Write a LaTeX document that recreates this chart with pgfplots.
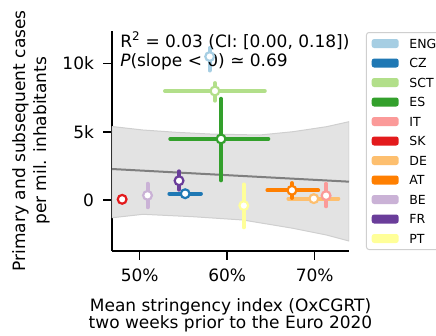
\documentclass[border=0pt]{standalone}
\usepackage{fontspec}
\setmainfont{DejaVu Sans}
\usepackage{pgfplots}
\pgfplotsset{compat=1.18}
\definecolor{cENG}{HTML}{A6CEE3}
\definecolor{cCZ}{HTML}{1F78B4}
\definecolor{cSCT}{HTML}{B2DF8A}
\definecolor{cES}{HTML}{33A02C}
\definecolor{cIT}{HTML}{FB9A99}
\definecolor{cSK}{HTML}{E31A1C}
\definecolor{cDE}{HTML}{FDBF6F}
\definecolor{cAT}{HTML}{FF7F00}
\definecolor{cBE}{HTML}{CAB2D6}
\definecolor{cFR}{HTML}{6A3D9A}
\definecolor{cPT}{HTML}{FFFF99}
\definecolor{bandfill}{HTML}{E3E3E3}
\definecolor{bandedge}{HTML}{CFCFCF}
\definecolor{regline}{HTML}{7F7F7F}
\pgfplotsset{
  ebar/.style={only marks, mark=none, forget plot,
    error bars/.cd, x dir=both, x explicit, y dir=both, y explicit,
    error mark=none,
    error bar style={line width=4pt, line cap=round, color=#1}},
  pmark/.style={only marks, forget plot, mark=*, mark size=4.4pt,
    mark options={fill=white, draw=#1, line width=2.2pt}},
}
\begin{document}
\begin{tikzpicture}
\begin{axis}[name=ax, scale only axis, width=237pt, height=220.5pt,
  xmin=46.84, xmax=73.92, ymin=-3733, ymax=12408,
  axis lines*=left, tick pos=left, tick align=outside,
  major tick length=8.5pt,
  axis line style={line width=1.6pt, black},
  tick style={line width=1.6pt, black},
  xtick={50,60,70}, xticklabels={50\%,60\%,70\%},
  ytick={0,5000,10000}, yticklabels={0,5k,10k},
  scaled y ticks=false,
  ticklabel style={font=\fontsize{17}{20}\selectfont},
  yticklabel style={xshift=-6pt},
  xticklabel style={yshift=-6pt},
  /pgf/number format/assume math mode=true,
  xlabel={Mean stringency index (OxCGRT)\\two weeks prior to the Euro 2020},
  xlabel style={align=center, font=\fontsize{17}{17.3}\selectfont,
    at={(axis description cs:0.5,0)}, anchor=north, yshift=-43.7pt},
  ylabel={Primary and subsequent cases\\per mil. inhabitants},
  ylabel style={align=center, font=\fontsize{17}{21}\selectfont,
    at={(axis description cs:-0.342,0.5)}, anchor=center},
  legend entries={ENG,CZ,SCT,ES,IT,SK,DE,AT,BE,FR,PT},
  legend image code/.code={\fill[#1] (0pt,-4.5pt) rectangle (27pt,4.5pt);},
  legend style={at={(1.0717,0.9932)}, anchor=north west,
    draw=bandedge, line width=1pt, rounded corners=2.5pt,
    font=\fontsize{12.5}{14}\selectfont,
    inner xsep=5.2pt, inner ysep=6.5pt, row sep=10.5pt, column sep=10.7pt,
    nodes={inner sep=0pt, text height=9pt, text depth=0pt, anchor=west}},
  legend cell align=left,
]
\addlegendimage{fill=cENG, draw=none}
\addlegendimage{fill=cCZ, draw=none}
\addlegendimage{fill=cSCT, draw=none}
\addlegendimage{fill=cES, draw=none}
\addlegendimage{fill=cIT, draw=none}
\addlegendimage{fill=cSK, draw=none}
\addlegendimage{fill=cDE, draw=none}
\addlegendimage{fill=cAT, draw=none}
\addlegendimage{fill=cBE, draw=none}
\addlegendimage{fill=cFR, draw=none}
\addlegendimage{fill=cPT, draw=none}

% credible band
\addplot[forget plot, fill=bandfill, draw=bandedge, line width=1pt] coordinates {
  (46.84,5380) (50.38,5124) (54.19,4956) (58.0,4832) (63.71,4758)
  (67.52,5000) (71.34,5366) (73.92,5732)
  (73.92,-3001) (71.34,-2562) (67.52,-2072) (61.81,-1464) (56.09,-1223)
  (50.38,-1047) (46.84,-1300)
} -- cycle;
% regression line
\addplot[forget plot, regline, line width=2pt] coordinates {(46.84,2269) (73.92,1342)};

% ENG
\addplot[ebar=cENG] coordinates {(58.0,10500) += (0,630) -= (0,1020)};
\addplot[pmark=cENG] coordinates {(58.0,10500)};
% CZ
\addplot[ebar=cCZ] coordinates {(55.2,460) += (1.8,0) -= (1.8,0)};
\addplot[pmark=cCZ] coordinates {(55.2,460)};
% SCT
\addplot[ebar=cSCT] coordinates {(58.6,7980) += (5.7,580) -= (5.7,710)};
\addplot[pmark=cSCT] coordinates {(58.6,7980)};
% ES
\addplot[ebar=cES] coordinates {(59.3,4470) += (5.4,2940) -= (5.8,3030)};
\addplot[pmark=cES] coordinates {(59.3,4470)};
% IT
\addplot[ebar=cIT] coordinates {(71.3,320) += (0,870) -= (0,780)};
\addplot[pmark=cIT] coordinates {(71.3,320)};
% SK
\addplot[pmark=cSK] coordinates {(48.0,50)};
% DE
\addplot[ebar=cDE] coordinates {(69.9,100) += (2.8,0) -= (2.9,0)};
\addplot[pmark=cDE] coordinates {(69.9,100)};
% AT
\addplot[ebar=cAT] coordinates {(67.4,710) += (3.0,530) -= (2.8,560)};
\addplot[pmark=cAT] coordinates {(67.4,710)};
% BE
\addplot[ebar=cBE] coordinates {(50.9,340) += (0,850) -= (0,870)};
\addplot[pmark=cBE] coordinates {(50.9,340)};
% FR
\addplot[ebar=cFR] coordinates {(54.5,1410) += (0,690) -= (0,650)};
\addplot[pmark=cFR] coordinates {(54.5,1410)};
% PT
\addplot[ebar=cPT] coordinates {(61.9,-410) += (0,1550) -= (0,1590)};
\addplot[pmark=cPT] coordinates {(61.9,-410)};

\node[anchor=base west, align=left, inner sep=0pt,
  font=\fontsize{17}{19.5}\selectfont] at (axis description cs:0.034,0.836)
  {R\textsuperscript{2} = 0.03 (CI: [0.00, 0.18])\\\textit{P}(slope < 0) ≃ 0.69};
\end{axis}
\pgfresetboundingbox
\path ([shift={(-112pt,-84pt)}]ax.south west) rectangle ([shift={(324pt,251pt)}]ax.south west);
\end{tikzpicture}
\end{document}
